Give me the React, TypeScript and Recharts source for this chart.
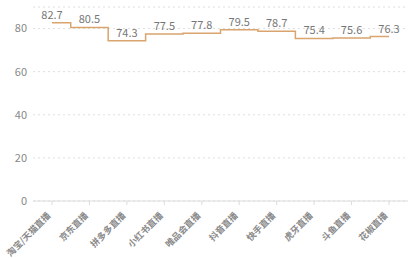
import React from "react";
import { LineChart, Line, XAxis, YAxis, CartesianGrid, LabelList } from "recharts";

const categories = ["淘宝/天猫直播", "京东直播", "拼多多直播", "小红书直播", "唯品会直播", "抖音直播", "快手直播", "虎牙直播", "斗鱼直播", "花椒直播"];
const values = [82.7, 80.5, 74.3, 77.5, 77.8, 79.5, 78.7, 75.4, 75.6, 76.3];
const yTicks = [0, 20, 40, 60, 80];

const data = categories.map((name, i) => ({ name, value: values[i] }));

const FONT = "'Noto Sans CJK SC', 'Noto Sans', sans-serif";

const XTick = (props: any) => {
  const { x, y, payload } = props;
  return (
    <g transform={`translate(${x - 3},${y + 7}) rotate(-45)`}>
      <text
        x={0}
        y={0}
        dy="0.35em"
        textAnchor="end"
        fontSize={9}
        fontWeight={700}
        fill="#8a8a8a"
        fontFamily={FONT}
      >
        {payload.value}
      </text>
    </g>
  );
};

export default function App() {
  return (
    <div style={{ position: "absolute", left: 0, top: 0, background: "#fff" }}>
      <LineChart width={418} height={258} data={data} margin={{ top: 7, right: 10, left: 8, bottom: 0 }}>
        <CartesianGrid horizontal vertical={false} stroke="#dedede" strokeDasharray="2 3" />
        <XAxis
          dataKey="name"
          interval={0}
          height={57}
          padding={{ left: 19, right: 19 }}
          axisLine={{ stroke: "#dcdcdc" }}
          tickLine={{ stroke: "#dcdcdc" }}
          tickSize={4}
          tick={<XTick />}
        />
        <YAxis
          width={25}
          domain={[0, 90]}
          ticks={yTicks}
          axisLine={false}
          tickLine={false}
          tickSize={4}
          tick={{ fontSize: 11, fill: "#888", fontFamily: FONT }}
        />
        <Line
          type="step"
          dataKey="value"
          stroke="#d9a46e"
          strokeWidth={1.5}
          dot={false}
          isAnimationActive={false}
        >
          <LabelList dataKey="value" position="top" offset={4} fontSize={11} fill="#777" fontFamily={FONT} />
        </Line>
      </LineChart>
    </div>
  );
}
